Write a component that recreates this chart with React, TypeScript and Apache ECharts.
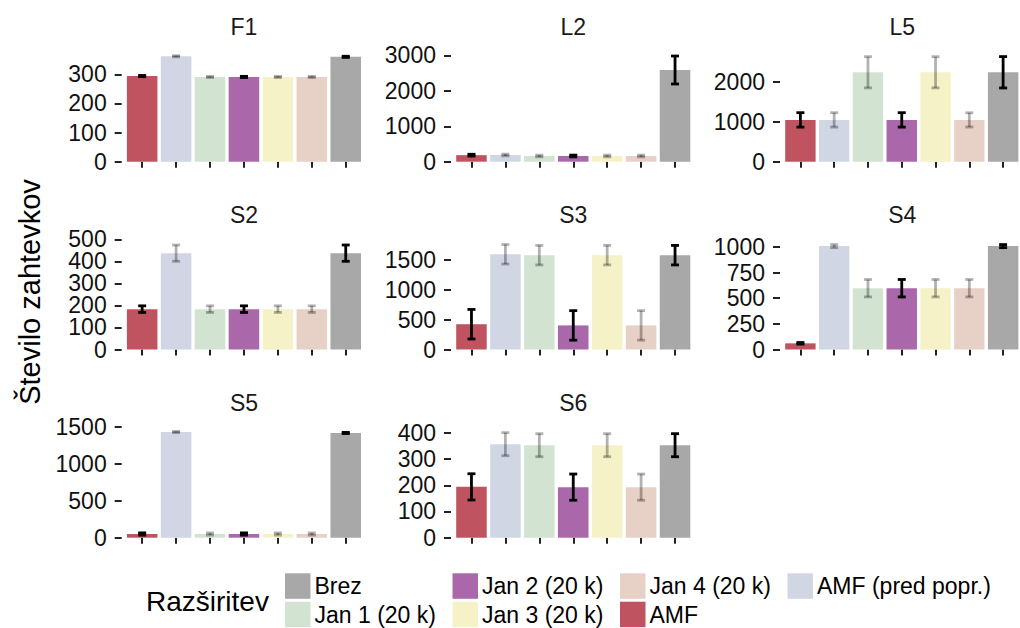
import React, { useEffect, useRef } from "react";
import * as echarts from "echarts";

// ---- data ----
const categories = ["AMF", "AMF (pred popr.)", "Jan 1 (20 k)", "Jan 2 (20 k)", "Jan 3 (20 k)", "Jan 4 (20 k)", "Brez"];
const emphasizedCategories = ["AMF", "Jan 2 (20 k)", "Brez"];
const legendOrder = ["Brez", "Jan 1 (20 k)", "Jan 2 (20 k)", "Jan 3 (20 k)", "Jan 4 (20 k)", "AMF", "AMF (pred popr.)"];
const legendTitle = "Razširitev";
const yAxisTitle = "Število zahtevkov";

const panelNames = ["F1", "L2", "L5", "S2", "S3", "S4", "S5", "S6"];

const f1Means = [294, 362, 291, 291, 291, 291, 360];
const f1Errs = [2, 2, 2, 2, 2, 2, 2];
const l2Means = [185, 189, 161, 161, 161, 161, 2590];
const l2Errs = [25, 25, 25, 25, 25, 25, 395];
const l5Means = [1045, 1045, 2235, 1045, 2235, 1045, 2235];
const l5Errs = [180, 180, 390, 180, 390, 178, 392];
const s2Means = [183, 437, 183, 183, 183, 183, 437];
const s2Errs = [15, 37, 15, 15, 15, 15, 37];
const s3Means = [425, 1600, 1585, 405, 1585, 405, 1585];
const s3Errs = [248, 164, 164, 248, 164, 248, 164];
const s4Means = [60, 1007, 597, 597, 597, 597, 1007];
const s4Errs = [8, 15, 85, 85, 85, 85, 15];
const s5Means = [50, 1428, 50, 50, 50, 50, 1415];
const s5Errs = [15, 8, 15, 15, 15, 15, 8];
const s6Means = [194, 357, 353, 193, 353, 193, 353];
const s6Errs = [50, 44, 44, 50, 44, 50, 44];

const panelMeans = [f1Means, l2Means, l5Means, s2Means, s3Means, s4Means, s5Means, s6Means];
const panelErrs = [f1Errs, l2Errs, l5Errs, s2Errs, s3Errs, s4Errs, s5Errs, s6Errs];

const f1Ticks = [0, 100, 200, 300];
const l2Ticks = [0, 1000, 2000, 3000];
const l5Ticks = [0, 1000, 2000];
const s2Ticks = [0, 100, 200, 300, 400, 500];
const s3Ticks = [0, 500, 1000, 1500];
const s4Ticks = [0, 250, 500, 750, 1000];
const s5Ticks = [0, 500, 1000, 1500];
const s6Ticks = [0, 100, 200, 300, 400];
const panelTicks = [f1Ticks, l2Ticks, l5Ticks, s2Ticks, s3Ticks, s4Ticks, s5Ticks, s6Ticks];
const panelIntervals = [100, 1000, 1000, 100, 500, 250, 500, 100];
const panelYMax = [383.5, 3155, 2792, 506.6, 1877, 1088, 1509, 426.3];

// ---- styles ----
const categoryColors = ["#BF5460", "#D0D6E4", "#D3E3D2", "#AA68AA", "#F6F2C8", "#E7D0C6", "#A8A8A8"];
const FONT = "'Liberation Sans', Arial, Helvetica, sans-serif";
const GRID_LEFTS = [125.2, 454.5, 783.5];
const GRID_TOPS = [50, 237.8, 426];
const GRID_W = 237.5;
const GRID_H = 111.7;
const TITLE_Y = [27, 215, 403];
const SMALL = 23;
const Y_OFFSET = 3.5;
const LABEL_MARGIN = 15;

export default function App() {
  const ref = useRef<HTMLDivElement>(null);
  useEffect(() => {
    if (!ref.current) return;
    const chart = echarts.init(ref.current, undefined, { renderer: "svg" });

    const grids: any[] = [];
    const xAxes: any[] = [];
    const yAxes: any[] = [];
    const series: any[] = [];
    const graphics: any[] = [];

    panelNames.forEach((name, p) => {
      const col = p % 3;
      const row = Math.floor(p / 3);
      const left = GRID_LEFTS[col];
      const top = GRID_TOPS[row];
      grids.push({ left, top, width: GRID_W, height: GRID_H, containLabel: false });
      xAxes.push({
        type: "category",
        gridIndex: p,
        data: categories,
        offset: 7.6,
        axisLine: { show: false },
        axisTick: { show: true, alignWithLabel: true, interval: 0, length: 6, lineStyle: { color: "#222", width: 2 } },
        axisLabel: { show: false, interval: 0 },
        splitLine: { show: false },
      });
      yAxes.push({
        type: "value",
        gridIndex: p,
        min: 0,
        max: panelYMax[p],
        interval: panelIntervals[p],
        offset: Y_OFFSET,
        axisLine: { show: false },
        axisTick: { show: true, length: 7, customValues: panelTicks[p], lineStyle: { color: "#222", width: 2 } },
        axisLabel: { show: false },
        splitLine: { show: false },
      });
      series.push({
        type: "bar",
        xAxisIndex: p,
        yAxisIndex: p,
        barCategoryGap: "10%",
        data: panelMeans[p].map((v, i) => ({ value: v, itemStyle: { color: categoryColors[i] } })),
        z: 2,
      });
      series.push({
        type: "custom",
        xAxisIndex: p,
        yAxisIndex: p,
        z: 5,
        encode: { x: 0, y: 1 },
        data: panelMeans[p].map((v, i) => [i, v, panelErrs[p][i]]),
        renderItem: (_params: any, api: any) => {
          const i = api.value(0);
          const m = api.value(1);
          const e = api.value(2);
          const t = api.coord([i, m + e]);
          const b = api.coord([i, m - e]);
          const hw = 4;
          const strong = emphasizedCategories.indexOf(categories[i]) >= 0;
          const style = { stroke: "#000", lineWidth: 2.8, opacity: strong ? 1 : 0.3 };
          return {
            type: "group",
            children: [
              { type: "line", shape: { x1: t[0], y1: t[1], x2: b[0], y2: b[1] }, style },
              { type: "line", shape: { x1: t[0] - hw, y1: t[1], x2: t[0] + hw, y2: t[1] }, style },
              { type: "line", shape: { x1: b[0] - hw, y1: b[1], x2: b[0] + hw, y2: b[1] }, style },
            ],
          };
        },
      });
      graphics.push({
        type: "text",
        x: left + GRID_W / 2,
        y: TITLE_Y[row],
        style: {
          text: name,
          textAlign: "center",
          textVerticalAlign: "middle",
          fill: "#1A1A1A",
          font: `${SMALL}px ${FONT}`,
        },
      });
    });

    chart.setOption({
      animation: false,
      backgroundColor: "#fff",
      grid: grids,
      xAxis: xAxes,
      yAxis: yAxes,
      series,
    });

    // y tick labels positioned through the axis scale
    panelNames.forEach((_name, p) => {
      const col = p % 3;
      const lx = GRID_LEFTS[col] - Y_OFFSET - LABEL_MARGIN;
      panelTicks[p].forEach((v) => {
        const py = chart.convertToPixel({ yAxisIndex: p }, v) as number;
        graphics.push({
          type: "text",
          x: lx,
          y: py,
          style: {
            text: String(v),
            textAlign: "right",
            textVerticalAlign: "middle",
            fill: "#111",
            font: `${SMALL}px ${FONT}`,
          },
        });
      });
    });

    // y-axis title
    graphics.push({
      type: "text",
      x: 30,
      y: 292,
      rotation: Math.PI / 2,
      style: {
        text: yAxisTitle,
        textAlign: "center",
        textVerticalAlign: "middle",
        fill: "#000",
        font: `29px ${FONT}`,
      },
    });

    // legend
    graphics.push({
      type: "text",
      x: 146,
      y: 601,
      style: { text: legendTitle, textAlign: "left", textVerticalAlign: "middle", fill: "#000", font: `28px ${FONT}` },
    });
    legendOrder.forEach((name, k) => {
      const col = Math.floor(k / 2);
      const row = k % 2;
      const kx = 285 + col * 167.5;
      const ky = 573.3 + row * 28.4;
      const ci = categories.indexOf(name);
      graphics.push({ type: "rect", shape: { x: kx, y: ky, width: 25.5, height: 25.5 }, style: { fill: categoryColors[ci] } });
      graphics.push({
        type: "text",
        x: kx + 29.5,
        y: ky + 13,
        style: { text: name, textAlign: "left", textVerticalAlign: "middle", fill: "#000", font: `${SMALL}px ${FONT}` },
      });
    });

    chart.setOption({ graphic: graphics });
    return () => chart.dispose();
  }, []);
  return (
    <div
      ref={ref}
      style={{ position: "absolute", left: 0, top: 0, width: 1020, height: 628, background: "#fff" }}
    />
  );
}
